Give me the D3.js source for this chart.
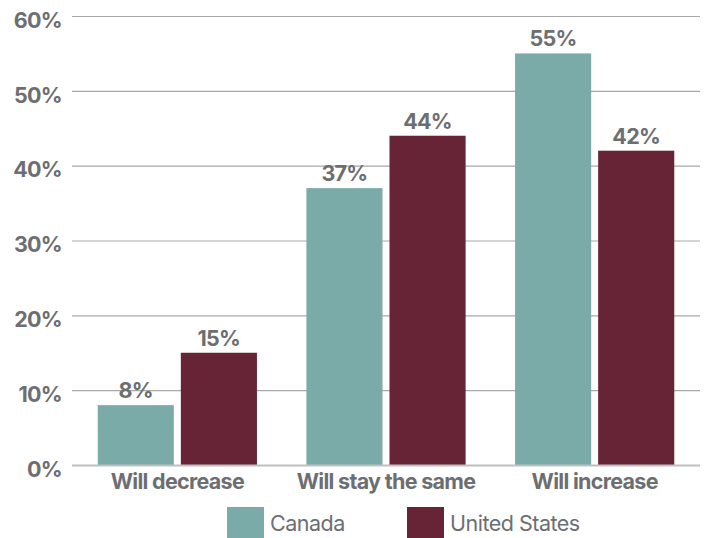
<!DOCTYPE html>
<html><head><meta charset="utf-8">
<script src="https://cdn.jsdelivr.net/npm/d3@7"></script>
<style>body{margin:0;background:#fff}svg{display:block}</style>
</head><body>
<script>
const categories = ["Will decrease", "Will stay the same", "Will increase"];
const seriesNames = ["Canada", "United States"];
const canada = [8, 37, 55];
const unitedStates = [15, 44, 42];
const yTicks = [0, 10, 20, 30, 40, 50, 60];
const colors = ["#7BABA8", "#662436"];

const W = 704, H = 538;
const svg = d3.select("body").append("svg").attr("width", W).attr("height", H);
const textColor = "#6d6e71";
const font = "Inter, Roboto, sans-serif";
const ls = "-0.7px";
const fs = 21.5;

const y = d3.scaleLinear().domain([0, 60]).range([465, 16]);
const x0 = d3.scaleBand().domain(categories).range([73, 699]).paddingInner(0.237).paddingOuter(0.1185);
const x1 = d3.scaleBand().domain(seriesNames).range([0, x0.bandwidth()]).paddingInner(0.084);

// gridlines
svg.append("g").selectAll("line").data(yTicks.filter(d => d > 0)).join("line")
  .attr("x1", 72).attr("x2", 700).attr("y1", d => y(d) + 0.5).attr("y2", d => y(d) + 0.5)
  .attr("stroke", "#a8a8a8").attr("stroke-width", 1.2);

// y axis labels
const yAxis = d3.axisLeft(y).tickValues(yTicks).tickFormat(d => d + "%").tickSize(0).tickPadding(0);
const ya = svg.append("g").attr("transform", "translate(62,3.5)").call(yAxis);
ya.select(".domain").remove();
ya.selectAll("text").attr("font-family", font).attr("font-weight", 700).attr("font-size", fs)
  .attr("letter-spacing", ls).attr("fill", textColor).attr("dy", "0.36em");

const data = categories.map((c, i) => ({cat: c, vals: [canada[i], unitedStates[i]]}));
const groups = svg.append("g").selectAll("g").data(data).join("g")
  .attr("transform", d => `translate(${x0(d.cat)},0)`);
groups.selectAll("rect").data(d => d.vals.map((v, j) => ({s: seriesNames[j], v, j}))).join("rect")
  .attr("x", d => x1(d.s)).attr("width", x1.bandwidth())
  .attr("y", d => y(d.v)).attr("height", d => y(0) - y(d.v))
  .attr("fill", d => colors[d.j]);
groups.selectAll("text").data(d => d.vals.map((v, j) => ({s: seriesNames[j], v, j}))).join("text")
  .attr("x", d => x1(d.s) + x1.bandwidth() / 2).attr("y", d => y(d.v) - 7)
  .attr("text-anchor", "middle").attr("font-family", font).attr("font-weight", 700)
  .attr("letter-spacing", ls).attr("font-size", fs).attr("fill", textColor).text(d => d.v + "%");

// baseline
svg.append("line").attr("x1", 72).attr("x2", 700).attr("y1", y(0) + 0.5).attr("y2", y(0) + 0.5)
  .attr("stroke", "#c0c0c0").attr("stroke-width", 2);

// x axis labels
const xAxis = d3.axisBottom(x0).tickSize(0).tickPadding(0);
const xa = svg.append("g").attr("transform", `translate(0,${y(0) + 6})`).call(xAxis);
xa.select(".domain").remove();
xa.selectAll("text").attr("font-family", font).attr("font-weight", 700).attr("font-size", fs)
  .attr("letter-spacing", ls).attr("fill", textColor).attr("dy", "0.85em");

// legend
const legendX = [227, 407];
const lg = svg.append("g").selectAll("g").data(seriesNames).join("g")
  .attr("transform", (d, i) => `translate(${legendX[i]},507)`);
lg.append("rect").attr("width", 37).attr("height", 31).attr("fill", (d, i) => colors[i]);
lg.append("text").attr("x", 43).attr("y", 16).attr("dy", "0.36em")
  .attr("font-family", font).attr("font-size", 21.5).attr("letter-spacing", "-0.5px")
  .attr("fill", textColor).text(d => d);
</script>
</body></html>
